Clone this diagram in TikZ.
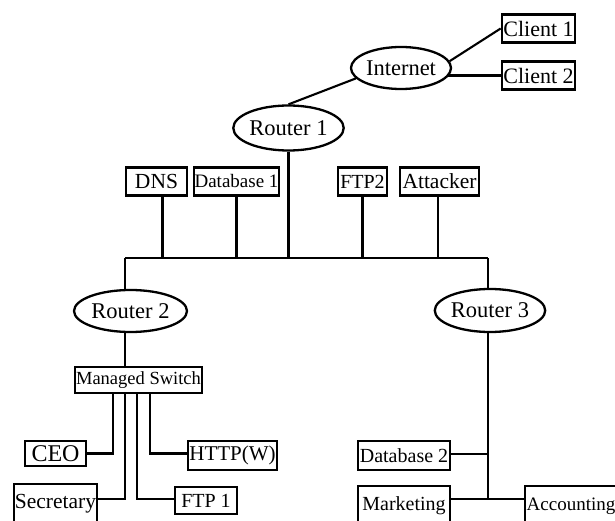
\documentclass[tikz,border=0pt]{standalone}
\usepackage{fontspec}
\setmainfont{Liberation Serif}
\usetikzlibrary{backgrounds,shapes.geometric}
\newcommand\lblsize[1]{\fontsize{#1}{#1}\selectfont}
\begin{document}
\begin{tikzpicture}[x=1pt,y=-1pt,
  box/.style={draw,line width=2.7pt,fill=white,inner sep=0pt,
    minimum width=#1,minimum height=28pt,font=\lblsize{21}},
  router/.style={draw,ellipse,line width=2.3pt,fill=white,inner sep=0pt,
    minimum width=#1,minimum height=42pt,font=\lblsize{22.5}},
  link/.style={line width=2.1pt}]
\useasboundingbox (0,0) rectangle (615,521);
\clip (0,0) rectangle (615,521);

% top: internet and outside clients
\node[router=100pt] (inet) at (401,68) {Internet};
\node[box=73pt,font=\lblsize{22}] (c1) at (538.5,28.5) {Client 1};
\node[box=73pt,font=\lblsize{22}] (c2) at (538.5,75.5) {Client 2};
\node[router=101pt,minimum height=45pt] (r1) at (288.5,128) {Router 1};

% servers on the backbone
\node[box=61pt,font=\lblsize{21.5}] (dns) at (156.5,181.5) {DNS};
\node[box=85pt,font=\lblsize{19}] (db1) at (236.5,181.5) {Database 1};
\node[box=49pt,font=\lblsize{20}] (ftp2) at (362.5,181.5) {FTP2};
\node[box=79pt,font=\lblsize{21.5}] (att) at (439.5,181.5) {Attacker};

% backbone ends
\coordinate (busL) at (125,258);
\coordinate (busR) at (488,258);

% left branch
\node[router=113pt] (r2) at (130.5,311) {Router 2};
\node[box=127pt,minimum height=26pt,font=\lblsize{18.5}] (sw) at (138.5,380) {Managed Switch};
\node[box=61pt,minimum height=25pt,font=\lblsize{24}] (ceo) at (55.5,453.5) {CEO};
\node[box=89pt,minimum height=29pt] (http) at (232.5,455.5) {HTTP(W)};
\node[box=83pt,minimum height=40pt,font=\lblsize{21.5}] (sec) at (55.5,504) {Secretary};
\node[box=62pt,minimum height=27pt,font=\lblsize{20}] (ftp1) at (206,500.5) {FTP 1};

% right branch
\node[router=102pt,minimum height=43pt] (r3) at (490,310.5) {Router 3};
\node[box=92pt,minimum height=29pt,font=\lblsize{20}] (db2) at (404,455.5) {Database 2};
\node[box=92pt,minimum height=40pt,font=\lblsize{20}] (mkt) at (404,506) {Marketing};
\node[box=92pt,minimum height=40pt,font=\lblsize{19}] (acc) at (571,506) {Accounting};

\begin{pgfonlayer}{background}
  % wide-area links
  \draw[link] (r1.north) -- (inet.193);
  \draw[link] (inet.8) -- (c1.west);
  \draw[link] (c2.west) -- (c2.west -| inet.center);
  % backbone
  \draw[link] (r1.south) -- (r1.south |- busL);
  \draw[link] (busL) -- (busR);
  \draw[link] ([xshift=6pt]dns.south) -- ([xshift=6pt]dns.south |- busL);
  \draw[link] (db1.south) -- (db1.south |- busL);
  \draw[link] (ftp2.south) -- (ftp2.south |- busL);
  \draw[link] ([xshift=-1.5pt]att.south) -- ([xshift=-1.5pt]att.south |- busL);
  % left branch: router 2 and the managed switch
  \draw[link] (busL) -- (busL |- sw.north);
  \draw[link] ([xshift=-25.5pt]sw.south) |- (ceo.east);
  \draw[link] ([xshift=11.5pt]sw.south) |- ([yshift=2pt]http.west);
  \draw[link] ([xshift=-13.5pt]sw.south) |- ([yshift=5pt]sec.east);
  \draw[link] ([xshift=-1.5pt]sw.south) |- ([yshift=1.5pt]ftp1.west);
  % right branch: router 3
  \draw[link] (busR) -- (busR |- 0,499);
  \draw[link] ([yshift=1.5pt]db2.east) -- ([yshift=1.5pt]db2.east -| busR);
  \draw[link] ([yshift=7pt]mkt.east) -- ([yshift=7pt]acc.west);
\end{pgfonlayer}
\end{tikzpicture}
\end{document}
